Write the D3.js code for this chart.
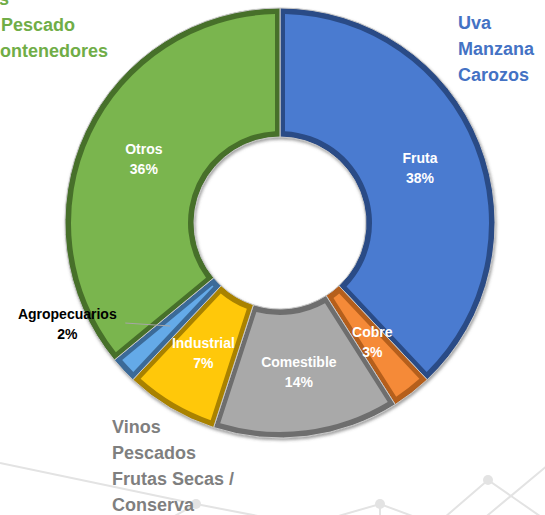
<!DOCTYPE html>
<html>
<head>
<meta charset="utf-8">
<script src="https://cdn.jsdelivr.net/npm/d3@7"></script>
<style>
  body { margin: 0; background: #fff; }
  svg { display: block; font-family: "Liberation Sans", Arial, sans-serif; }
</style>
</head>
<body>
<svg width="545" height="515"></svg>
<script>
// Data
var categories = ["Fruta", "Cobre", "Comestible", "Industrial", "Agropecuarios", "Otros"];
var shares = [38, 3, 14, 7, 2, 36];
var fruitItems = ["Uva", "Manzana", "Carozos"];
var foodItems = ["Vinos", "Pescados", "Frutas Secas /", "Conserva"];
var otherItems = ["s", "Pescado", "Contenedores"];

var fills = ["#4a7bd0", "#f58a38", "#a9a9a9", "#ffc80a", "#64aae8", "#7ab54e"];
var shades = ["#2c4c86", "#b55e1c", "#6e6e6e", "#a98200", "#3a6a98", "#476f2c"];

var svg = d3.select("svg"),
    width = +svg.attr("width"),
    height = +svg.attr("height");

var cx = 280, cy = 223, R = 215, r = 86;

// drop shadow
var defs = svg.append("defs");
defs.append("filter").attr("id", "shadow")
    .attr("x", "-10%").attr("y", "-10%").attr("width", "120%").attr("height", "120%")
  .append("feDropShadow")
    .attr("dx", 1).attr("dy", 2).attr("stdDeviation", 1.6)
    .attr("flood-color", "#555").attr("flood-opacity", 0.55);

// faint background network lines
var deco = svg.append("g")
    .attr("fill", "none")
    .attr("stroke", "#e3e3e3")
    .attr("stroke-width", 2);
var decoLines = [
  [[0, 463], [196, 504], [330, 530]],
  [[150, 530], [196, 504]],
  [[290, 530], [380, 504], [450, 530]],
  [[380, 504], [380, 530]],
  [[430, 530], [488, 480], [560, 530]],
  [[470, 530], [560, 455]]
];
deco.selectAll("path").data(decoLines).enter().append("path")
    .attr("d", d3.line());
deco.selectAll("circle").data([[196, 504], [380, 504], [488, 480]]).enter().append("circle")
    .attr("cx", function (d) { return d[0]; })
    .attr("cy", function (d) { return d[1]; })
    .attr("r", 5)
    .attr("fill", "#e3e3e3")
    .attr("stroke", "none");

var pie = d3.pie().sort(null).value(function (d) { return d; });
var arcs = pie(shares);

var outerArc = d3.arc().innerRadius(r).outerRadius(R);
var innerArc = d3.arc().innerRadius(r + 6).outerRadius(R - 6)
    .padAngle(0.1).padRadius(100);

var g = svg.append("g").attr("transform", "translate(" + cx + "," + cy + ")");

var slices = g.append("g").attr("filter", "url(#shadow)");
slices.selectAll("path.base").data(arcs).enter().append("path")
    .attr("class", "base")
    .attr("d", outerArc)
    .attr("fill", function (d, i) { return shades[i]; })
    .attr("stroke", "#c8c8c8")
    .attr("stroke-width", 1);

g.selectAll("path.face").data(arcs).enter().append("path")
    .attr("class", "face")
    .attr("d", innerArc)
    .attr("fill", function (d, i) { return fills[i]; });

// slice labels
var labelled = arcs.filter(function (d, i) { return categories[i] !== "Agropecuarios"; });
var labels = g.selectAll("text.lab").data(labelled).enter().append("text")
    .attr("class", "lab")
    .attr("text-anchor", "middle")
    .attr("fill", "#fff")
    .attr("font-size", 14)
    .attr("font-weight", "bold")
    .attr("transform", function (d) { return "translate(" + outerArc.centroid(d) + ")"; });
labels.append("tspan").attr("x", 0).attr("y", -5)
    .text(function (d) { return categories[d.index]; });
labels.append("tspan").attr("x", 0).attr("y", 15)
    .text(function (d) { return d.data + "%"; });

// outside label for the small slice, with leader line
var agro = arcs[4];
var p = outerArc.centroid(agro);
var lx = p[0] - 45, ly = p[1] - 3;
g.append("line")
    .attr("x1", p[0]).attr("y1", p[1])
    .attr("x2", lx).attr("y2", ly)
    .attr("stroke", "#a6a6a6").attr("stroke-width", 1);
var agroText = g.append("text")
    .attr("text-anchor", "middle")
    .attr("fill", "#000")
    .attr("font-size", 14)
    .attr("font-weight", "bold")
    .attr("transform", "translate(" + (lx - 58) + "," + ly + ")");
agroText.append("tspan").attr("x", 0).attr("y", -4).text(categories[4]);
agroText.append("tspan").attr("x", 0).attr("y", 16).text(agro.data + "%");

// descriptive text blocks
function block(lines, xs, y, color, anchor) {
  var t = svg.append("text")
      .attr("fill", color)
      .attr("font-size", 18)
      .attr("font-weight", "bold")
      .attr("text-anchor", anchor);
  t.selectAll("tspan").data(lines).enter().append("tspan")
      .attr("x", function (d, i) { return Array.isArray(xs) ? xs[i] : xs; })
      .attr("y", function (d, i) { return y + i * 26; })
      .attr("text-anchor", function (d, i) { return Array.isArray(xs) && i === 0 ? "end" : anchor; })
      .text(function (d) { return d; });
}
block(fruitItems, 458, 29, "#4472c4", "start");
block(foodItems, 112, 433, "#7f7f7f", "start");
block(otherItems, [9, 1, -13], 5, "#70ad47", "start");
</script>
</body>
</html>
